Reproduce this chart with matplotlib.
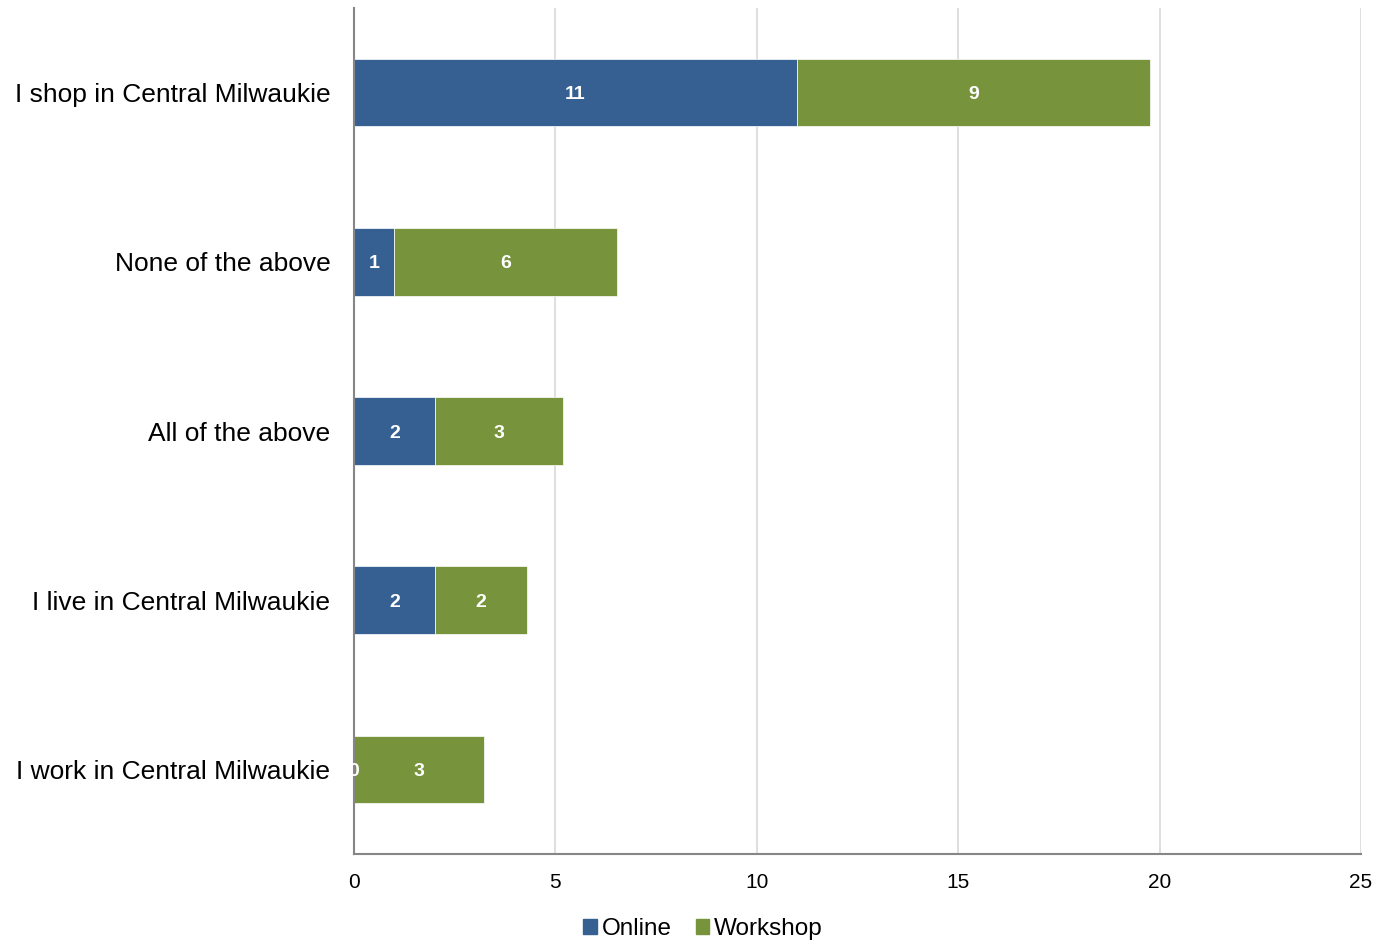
import matplotlib
matplotlib.use("Agg")
import matplotlib.pyplot as plt
from matplotlib.patches import Patch

categories = ["I shop in Central Milwaukie", "None of the above", "All of the above",
              "I live in Central Milwaukie", "I work in Central Milwaukie"]
online = [11, 1, 2, 2, 0]
workshop = [8.76, 5.52, 3.2, 2.3, 3.23]
xticks = [0, 5, 10, 15, 20, 25]

blue = "#366092"
green = "#77933C"

plt.rcParams['font.family'] = ['Liberation Sans', 'DejaVu Sans']

fig = plt.figure(figsize=(13.76, 9.42), dpi=100)
ax = fig.add_axes([354/1376, 1 - 854/942, (1361-354)/1376, (854-8)/942])

y = list(range(len(categories)))
ax.barh(y, online, height=0.4, color=blue, edgecolor='white', linewidth=0.5, zorder=3)
ax.barh(y, workshop, left=online, height=0.4, color=green, edgecolor='white', linewidth=0.5, zorder=3)

for i in range(len(categories)):
    ax.text(online[i] / 2, y[i], f"{online[i]:.0f}", color='white', fontweight='bold',
            fontsize=14, ha='center', va='center_baseline', zorder=5, clip_on=False)
    ax.text(online[i] + workshop[i] / 2, y[i], f"{workshop[i]:.0f}", color='white',
            fontweight='bold', fontsize=14, ha='center', va='center_baseline', zorder=5)

ax.set_ylim(len(categories) - 0.5, -0.5)
ax.set_xlim(0, 25)
ax.set_xticks(xticks)
ax.set_xticklabels([str(t) for t in xticks], fontsize=15)
ax.set_yticks(y)
ax.set_yticklabels(categories, fontsize=19)
ax.tick_params(axis='y', length=0, pad=17)
ax.tick_params(axis='x', length=0, pad=14)
ax.grid(axis='x', color='#d9d9d9', linewidth=1.2, zorder=0)
for s in ['top', 'right']:
    ax.spines[s].set_visible(False)
for s in ['left', 'bottom']:
    ax.spines[s].set_color('#868686')
    ax.spines[s].set_linewidth(1.5)
    ax.spines[s].set_zorder(4)

handles = [Patch(color=blue, label='Online'), Patch(color=green, label='Workshop')]
fig.legend(handles=handles, loc='center', bbox_to_anchor=(703/1376, 1 - 929/942), ncol=2,
           frameon=False, fontsize=17.5, handlelength=0.55, handleheight=0.55,
           handletextpad=0.2, columnspacing=1.0)

fig.savefig("out.png", dpi=100)
